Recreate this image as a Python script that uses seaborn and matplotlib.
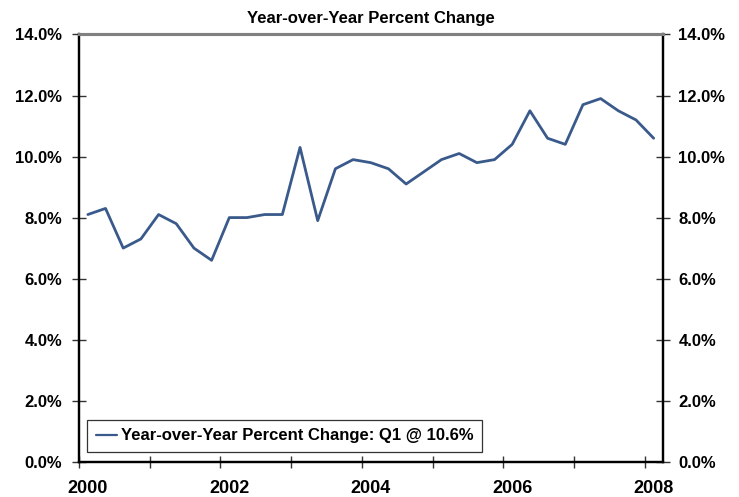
import matplotlib
matplotlib.use("Agg")
import matplotlib.pyplot as plt
from matplotlib.ticker import FixedLocator, FuncFormatter
import seaborn as sns
import pandas as pd

# Quarterly year-over-year percent change, 2000 Q1 through 2008 Q1
quarters = ["2000Q1", "2000Q2", "2000Q3", "2000Q4",
            "2001Q1", "2001Q2", "2001Q3", "2001Q4",
            "2002Q1", "2002Q2", "2002Q3", "2002Q4",
            "2003Q1", "2003Q2", "2003Q3", "2003Q4",
            "2004Q1", "2004Q2", "2004Q3", "2004Q4",
            "2005Q1", "2005Q2", "2005Q3", "2005Q4",
            "2006Q1", "2006Q2", "2006Q3", "2006Q4",
            "2007Q1", "2007Q2", "2007Q3", "2007Q4",
            "2008Q1"]
yoy_change = [8.1, 8.3, 7.0, 7.3,
              8.1, 7.8, 7.0, 6.6,
              8.0, 8.0, 8.1, 8.1,
              10.3, 7.9, 9.6, 9.9,
              9.8, 9.6, 9.1, 9.5,
              9.9, 10.1, 9.8, 9.9,
              10.4, 11.5, 10.6, 10.4,
              11.7, 11.9, 11.5, 11.2,
              10.6]
year_labels = ["2000", "2002", "2004", "2006", "2008"]
y_ticks = [0, 2, 4, 6, 8, 10, 12, 14]

df = pd.DataFrame({"quarter": quarters, "change": yoy_change})
df["pos"] = range(len(df))

sns.set_theme(style="white")
plt.rcParams["font.family"] = ["Liberation Sans", "DejaVu Sans"]
plt.rcParams["font.weight"] = "bold"
for key in ("text.color", "axes.labelcolor", "xtick.labelcolor", "ytick.labelcolor"):
    plt.rcParams[key] = "black"

FS = 12

fig = plt.figure(figsize=(7.39, 4.97), dpi=100)
ax = fig.add_axes([0.1069, 0.0710, 0.7896, 0.8596])

line_color = "#3A5A8C"
latest = df["change"].iloc[-1]
sns.lineplot(data=df, x="pos", y="change", ax=ax, color=line_color,
             linewidth=2.0,
             label=f"Year-over-Year Percent Change: Q1 @ {latest:.1f}%")

ax.set_xlim(-0.5, len(df) - 0.5)
ax.set_ylim(0, 14)
ax.set_xlabel("")
ax.set_ylabel("")

# Year labels on every eighth quarter, tick marks between years
label_pos = [i for i, q in enumerate(quarters) if q.endswith("Q1") and q[:4] in year_labels]
ax.xaxis.set_major_locator(FixedLocator(label_pos))
ax.set_xticklabels(year_labels)
ax.xaxis.set_minor_locator(FixedLocator([p - 0.5 for p in range(0, len(df), 4)]))
ax.tick_params(axis="x", which="major", length=0, pad=13, labelsize=13)
ax.tick_params(axis="x", which="minor", direction="inout", length=8,
               width=1.0, color="#333333", bottom=True)

pct = FuncFormatter(lambda v, _: f"{v:.1f}%")
ax.yaxis.set_major_locator(FixedLocator(y_ticks))
ax.yaxis.set_major_formatter(pct)
ax.tick_params(axis="y", which="major", direction="inout", length=10,
               width=1.0, color="#333333", left=True, pad=7, labelsize=FS)

ax2 = ax.twinx()
ax2.set_ylim(ax.get_ylim())
ax2.yaxis.set_major_locator(FixedLocator(y_ticks))
ax2.yaxis.set_major_formatter(pct)
ax2.tick_params(axis="y", which="major", direction="inout", length=10,
                width=1.0, color="#333333", right=True, pad=6.5, labelsize=FS)

for a in (ax, ax2):
    a.spines["left"].set_color("black")
    a.spines["left"].set_linewidth(1.6)
    a.spines["right"].set_color("black")
    a.spines["right"].set_linewidth(1.6)
    a.spines["bottom"].set_color("black")
    a.spines["bottom"].set_linewidth(1.6)
    a.spines["top"].set_color("#808080")
    a.spines["top"].set_linewidth(2.2)

ax.set_title("Year-over-Year Percent Change", fontsize=FS,
             fontweight="bold", pad=8)

leg = ax.legend(loc="lower left", bbox_to_anchor=(0.0142, 0.0234),
                frameon=True, fancybox=False, fontsize=FS,
                handlelength=1.3, handletextpad=0.25, borderpad=0.5,
                borderaxespad=0)
leg.get_frame().set_edgecolor("black")
leg.get_frame().set_linewidth(0.9)
leg.get_lines()[0].set_linewidth(1.6)

fig.savefig("out.png", dpi=100)
